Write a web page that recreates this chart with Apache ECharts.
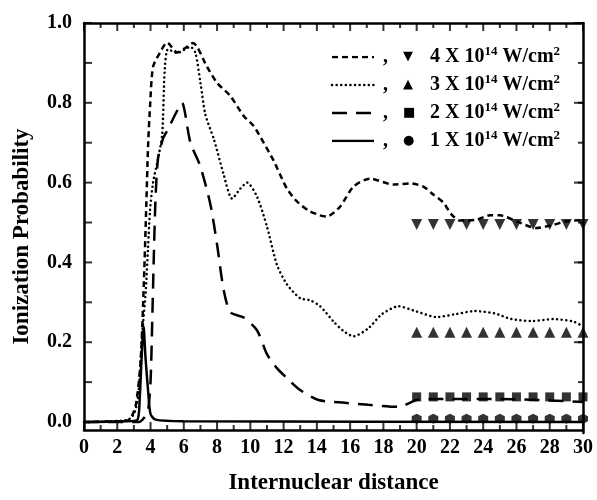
<!DOCTYPE html>
<html>
<head>
<meta charset="utf-8">
<script src="https://cdn.jsdelivr.net/npm/echarts@6/dist/echarts.min.js"></script>
<style>html,body{margin:0;padding:0;background:#fff}#c{width:597px;height:500px}</style>
</head>
<body>
<div id="c"></div>
<script>
// ---- data ----
const seriesNames = ['4e14', '3e14', '2e14', '1e14'];
const legendLabels = ['4', '3', '2', '1'];
const legendGlyphs = ['\u25BC', '\u25B2', '\u25A0', '\u25CF'];
const legendRows = [0, 1, 2, 3];

const curve4 = [[0,0],[2,0.002],[2.7,0.005],[3.1,0.04],[3.4,0.15],[3.6,0.35],[3.75,0.55],[3.85,0.69],[3.97,0.79],[4.15,0.89],[4.57,0.926],[5.0,0.951],[5.6,0.926],[6.0,0.935],[6.55,0.95],[7.4,0.89],[8.0,0.85],[8.8,0.817],[9.6,0.767],[10.2,0.742],[10.8,0.70],[11.4,0.655],[12.2,0.585],[12.8,0.553],[13.5,0.53],[14.2,0.518],[14.6,0.515],[15.4,0.54],[16.2,0.59],[17.2,0.61],[18.6,0.595],[19.6,0.598],[20.4,0.59],[21.0,0.57],[21.6,0.55],[22.1,0.52],[22.6,0.505],[23.6,0.507],[24.4,0.518],[25.0,0.518],[26.0,0.503],[27.2,0.486],[28.2,0.494],[29.0,0.503],[30,0.506]];
const curve3 = [[0,0],[2.6,0.005],[3.0,0.02],[3.25,0.063],[3.5,0.22],[3.7,0.32],[3.85,0.437],[3.97,0.53],[4.15,0.6],[4.45,0.66],[4.7,0.72],[4.85,0.88],[5.05,0.934],[5.6,0.925],[6.4,0.94],[6.7,0.925],[7.0,0.85],[7.3,0.77],[7.8,0.71],[8.4,0.62],[8.9,0.56],[9.4,0.585],[9.8,0.60],[10.4,0.565],[11.0,0.49],[11.6,0.394],[12.2,0.345],[13.0,0.31],[13.6,0.305],[14.2,0.29],[15.0,0.252],[15.6,0.228],[16.2,0.215],[17.1,0.235],[17.9,0.27],[18.9,0.29],[20.0,0.277],[21.2,0.263],[22.3,0.27],[23.5,0.278],[24.7,0.272],[25.7,0.258],[26.9,0.253],[28.2,0.258],[29.4,0.252],[30,0.24]];
const curve2 = [[0,0],[3.3,0.0],[3.6,0.01],[3.85,0.03],[4.0,0.1],[4.1,0.25],[4.2,0.42],[4.3,0.56],[4.45,0.66],[4.75,0.71],[5.0,0.73],[5.6,0.78],[5.9,0.80],[6.05,0.78],[6.4,0.70],[7.0,0.64],[7.6,0.545],[8.0,0.445],[8.4,0.33],[8.8,0.275],[9.6,0.262],[10.4,0.23],[11.0,0.17],[11.6,0.135],[12.2,0.11],[13.0,0.08],[14.1,0.055],[15.7,0.048],[17.1,0.043],[18.9,0.038],[20.0,0.055],[21.0,0.058],[25.0,0.058],[30,0.05]];
const curve1 = [[0,0],[2.5,0.002],[3.2,0.005],[3.35,0.06],[3.45,0.15],[3.58,0.24],[3.7,0.16],[3.85,0.08],[4.0,0.02],[4.3,0.006],[6,0.002],[30,0]];

const markerX = [20,21,22,23,24,25,26,27,28,29,30];
const marker4 = [0.495,0.495,0.495,0.495,0.495,0.495,0.495,0.495,0.495,0.495,0.495];
const marker3 = [0.225,0.225,0.225,0.225,0.225,0.225,0.225,0.225,0.225,0.225,0.225];
const marker2 = [0.063,0.063,0.063,0.063,0.063,0.063,0.063,0.063,0.063,0.063,0.063];
const marker1 = [0.008,0.008,0.008,0.008,0.008,0.008,0.008,0.008,0.008,0.008,0.008];

const yLabels = [0,0.2,0.4,0.6,0.8,1.0];
const xTicksMajor = [0,2,4,6,8,10,12,14,16,18,20,22,24,26,28,30];
const xTicksMinor = [1,3,5,7,9,11,13,15,17,19,21,23,25,27,29];
const yTicksAll = [0,0.1,0.2,0.3,0.4,0.5,0.6,0.7,0.8,0.9,1.0];
const yTicksMajor = [0,0.2,0.4,0.6,0.8,1.0];

// ---- chart ----
const FONT = 'Liberation Serif';
const Y_MIN = -0.02, Y_MAX = 1.0, X_MIN = 0, X_MAX = 30;
const chart = echarts.init(document.getElementById('c'));
const hexPath = 'path://M0,-10 L8.66,-5 L8.66,5 L0,10 L-8.66,5 L-8.66,-5 Z';
const dashes = { '4e14': [6, 4], '3e14': [0.1, 4.5], '2e14': [15, 9], '1e14': null };

function lineSeries(key, name, data, xi, yi, smooth) {
  const d = dashes[key];
  return {
    name: name, type: 'line', data: data, xAxisIndex: xi, yAxisIndex: yi,
    showSymbol: false, symbol: 'none', smooth: smooth, z: 3, silent: true,
    lineStyle: { color: '#000', width: 2.5, type: d ? d : 'solid', cap: key === '3e14' ? 'round' : 'butt' }
  };
}
function markerSeries(name, ys, symbol, size, rotate) {
  return {
    name: name, type: 'scatter', data: markerX.map((x, i) => [x, ys[i]]),
    xAxisIndex: 0, yAxisIndex: 0, symbol: symbol, symbolSize: size, symbolRotate: rotate || 0,
    itemStyle: { color: '#000' }, z: 4, silent: true
  };
}
// inward tick marks drawn as thin rect symbols on the axis frame, positioned by the axis scales
function tickSeries(name, pts, size, offset) {
  return {
    name: name, type: 'scatter', data: pts, xAxisIndex: 0, yAxisIndex: 0,
    symbol: 'rect', symbolSize: size, symbolOffset: offset, clip: false,
    itemStyle: { color: '#000' }, z: 6, silent: true
  };
}

const labelFont = { fontFamily: FONT, fontWeight: 'bold', fontSize: 20, color: '#000' };
function axisLine() { return { show: true, onZero: false, lineStyle: { color: '#000', width: 2.5 } }; }

// legend text built with title components (rich text)
const legendTop = 57, legendStep = 28;
const titles = legendRows.map(i => ({
  left: 383, top: legendTop + i * legendStep - 12,
  text: '{c|,}{m|' + legendGlyphs[i] + '}{t|' + legendLabels[i] + ' X 10}{s|14}{t| W/cm}{s|2}',
  padding: 0,
  textStyle: {
    rich: {
      c: { fontFamily: FONT, fontWeight: 'bold', fontSize: 20, color: '#000', width: 20, lineHeight: 24, verticalAlign: 'middle' },
      m: { fontFamily: 'DejaVu Sans', fontSize: 13, color: '#000', width: 27, lineHeight: 24, verticalAlign: 'middle' },
      t: { fontFamily: FONT, fontWeight: 'bold', fontSize: 20, color: '#000', lineHeight: 24, verticalAlign: 'middle' },
      s: { fontFamily: FONT, fontWeight: 'bold', fontSize: 13, color: '#000', lineHeight: 13, verticalAlign: 'top' }
    }
  }
}));

const legendLineSeries = seriesNames.map((key, i) =>
  lineSeries(key, key + '_key', [[0, legendRows[i]], [1, legendRows[i]]], 2, 2, false)
);

const tickSeriesList = [
  tickSeries('tb', xTicksMajor.map(x => [x, Y_MIN]), [2, 8], [0, -4]),
  tickSeries('tbm', xTicksMinor.map(x => [x, Y_MIN]), [2, 5], [0, -2.5]),
  tickSeries('tt', xTicksMajor.map(x => [x, Y_MAX]), [2, 8], [0, 4]),
  tickSeries('ttm', xTicksMinor.map(x => [x, Y_MAX]), [2, 5], [0, 2.5]),
  tickSeries('tl', yTicksAll.map(y => [X_MIN, y]), [8, 2], [4, 0]),
  tickSeries('tr', yTicksAll.map(y => [X_MAX, y]), [5, 2], [-2.5, 0]),
  tickSeries('trM', yTicksMajor.map(y => [X_MAX, y]), [9, 2], [-4.5, 0])
];

const option = {
  animation: false,
  backgroundColor: '#fff',
  title: titles,
  grid: [
    { left: 84, right: 14, top: 23, bottom: 67 },
    { left: 84, right: 14, top: 23, bottom: 67 },
    { left: 332, width: 42, top: legendTop, height: legendStep * 3 }
  ],
  xAxis: [
    {
      type: 'value', gridIndex: 0, position: 'bottom', min: X_MIN, max: X_MAX, interval: 2,
      name: 'Internuclear distance', nameLocation: 'middle', nameGap: 42,
      nameTextStyle: { fontFamily: FONT, fontWeight: 'bold', fontSize: 23, color: '#000' },
      axisLine: axisLine(), axisTick: { show: false },
      axisLabel: Object.assign({ margin: 8, hideOverlap: false }, labelFont),
      splitLine: { show: false }
    },
    {
      type: 'value', gridIndex: 1, position: 'top', min: X_MIN, max: X_MAX, interval: 2,
      axisLine: axisLine(), axisTick: { show: false }, axisLabel: { show: false }, splitLine: { show: false }
    },
    { type: 'value', gridIndex: 2, min: 0, max: 1, show: false }
  ],
  yAxis: [
    {
      type: 'value', gridIndex: 0, position: 'left', min: Y_MIN, max: Y_MAX,
      name: 'Ionization Probability', nameLocation: 'middle', nameGap: 50,
      nameTextStyle: { fontFamily: FONT, fontWeight: 'bold', fontSize: 23, color: '#000', padding: [0, 20, 0, 0] },
      axisLine: axisLine(), axisTick: { show: false },
      axisLabel: Object.assign({ margin: 12, customValues: yLabels, formatter: v => v.toFixed(1) }, labelFont),
      splitLine: { show: false }
    },
    {
      type: 'value', gridIndex: 1, position: 'right', min: Y_MIN, max: Y_MAX,
      axisLine: axisLine(), axisTick: { show: false }, axisLabel: { show: false }, splitLine: { show: false }
    },
    { type: 'value', gridIndex: 2, min: 0, max: 3, inverse: true, show: false }
  ],
  series: [
    lineSeries('4e14', '4e14', curve4, 0, 0, 0.25),
    lineSeries('3e14', '3e14', curve3, 0, 0, 0.25),
    lineSeries('2e14', '2e14', curve2, 0, 0, 0.25),
    lineSeries('1e14', '1e14', curve1, 0, 0, 0.25),
    markerSeries('m4', marker4, 'triangle', 11, 180),
    markerSeries('m3', marker3, 'triangle', 11, 0),
    markerSeries('m2', marker2, 'rect', 9, 0),
    markerSeries('m1', marker1, hexPath, 10, 0)
  ].concat(legendLineSeries, tickSeriesList)
};
chart.setOption(option);
</script>
</body>
</html>
